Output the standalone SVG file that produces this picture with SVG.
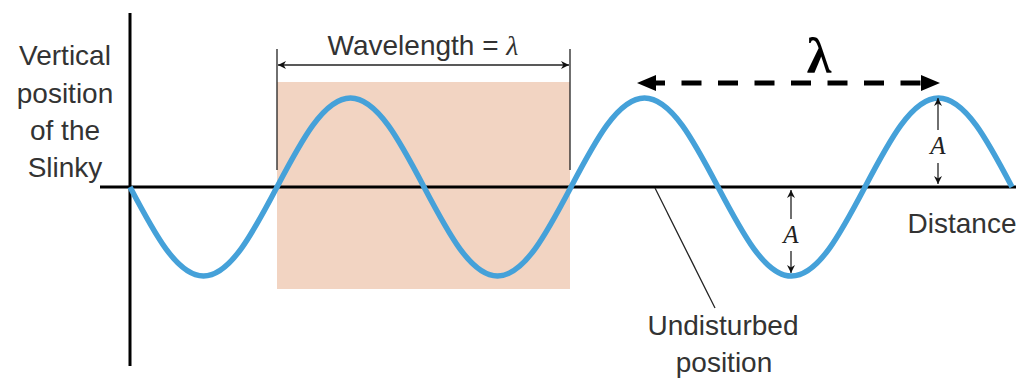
<svg xmlns="http://www.w3.org/2000/svg" width="1021" height="378" viewBox="0 0 1021 378">
<style>
.lbl{font-family:"Liberation Sans",Arial,sans-serif;font-size:28px;fill:#333;}
.amp{font-family:"Liberation Serif","Times New Roman",serif;font-style:italic;font-size:25px;fill:#222;}
.axis{stroke:#000;stroke-width:3;fill:none;}
.thin{stroke:#222;stroke-width:1.3;fill:none;}
</style>
<defs>
<marker id="sa" viewBox="0 0 10 10" refX="10" refY="5" markerWidth="10" markerHeight="8" markerUnits="userSpaceOnUse" orient="auto-start-reverse">
<path d="M0,0 L10,5 L0,10 L3,5 Z" fill="#111"/>
</marker>
</defs>
<rect width="1021" height="378" fill="#fff"/>
<rect id="wavelength-box" x="277" y="82" width="293" height="207" fill="#f2d4c2"/>
<g id="axes">
<line class="axis" x1="130" y1="13" x2="130" y2="366"/>
<line class="axis" x1="100" y1="187" x2="1016" y2="187"/>
</g>
<g id="wave">
<path d="M130,187 c23.97,45.6 46.9,89 73.5,89 c26.6,0 49.53,-43.4 73.5,-89 c23.97,-45.6 46.9,-89 73.5,-89 c26.6,0 49.53,43.4 73.5,89 c23.97,45.6 46.9,89 73.5,89 c26.6,0 49.53,-43.4 73.5,-89 c23.97,-45.6 46.9,-89 73.5,-89 c26.6,0 49.53,43.4 73.5,89 c23.97,45.6 46.9,89 73.5,89 c26.6,0 49.53,-43.4 73.5,-89 c23.97,-45.6 46.9,-89 73.5,-89 c26.6,0 49.53,43.4 73.5,89" fill="none" stroke="#45a1d9" stroke-width="5.5"/>
</g>
<g id="connectors">
<line class="thin" x1="277" y1="49" x2="277" y2="170"/>
<line class="thin" x1="570" y1="49" x2="570" y2="170"/>
<line class="thin" x1="278" y1="65" x2="569" y2="65" marker-start="url(#sa)" marker-end="url(#sa)"/>
<line x1="645" y1="83" x2="925" y2="83" stroke="#000" stroke-width="5" stroke-dasharray="20 16.5"/>
<path d="M637,83 L656,75 L656,91 Z" fill="#000"/>
<path d="M940,83 L921,75 L921,91 Z" fill="#000"/>
<line class="thin" x1="938" y1="130" x2="938" y2="98" marker-end="url(#sa)"/>
<line class="thin" x1="938" y1="163" x2="938" y2="184" marker-end="url(#sa)"/>
<line class="thin" x1="791" y1="219" x2="791" y2="190" marker-end="url(#sa)"/>
<line class="thin" x1="791" y1="251" x2="791" y2="273" marker-end="url(#sa)"/>
<line class="thin" x1="655" y1="188" x2="715" y2="308"/>
</g>
<g id="labels">
<text class="lbl" x="65" y="65" text-anchor="middle">Vertical</text>
<text class="lbl" x="65" y="103" text-anchor="middle">position</text>
<text class="lbl" x="65" y="140" text-anchor="middle">of the</text>
<text class="lbl" x="65" y="177" text-anchor="middle">Slinky</text>
<text class="lbl" x="423" y="55" text-anchor="middle">Wavelength = <tspan font-family="'Liberation Serif',serif" font-style="italic">λ</tspan></text>
<text x="819" y="73" text-anchor="middle" font-family="'Liberation Serif','Times New Roman',serif" font-weight="bold" font-size="50" fill="#000">λ</text>
<text class="amp" x="938" y="154" text-anchor="middle">A</text>
<text class="amp" x="791" y="243" text-anchor="middle">A</text>
<text class="lbl" x="962" y="233" text-anchor="middle">Distance</text>
<text class="lbl" x="723" y="335" text-anchor="middle">Undisturbed</text>
<text class="lbl" x="724" y="372" text-anchor="middle">position</text>
</g>
</svg>
